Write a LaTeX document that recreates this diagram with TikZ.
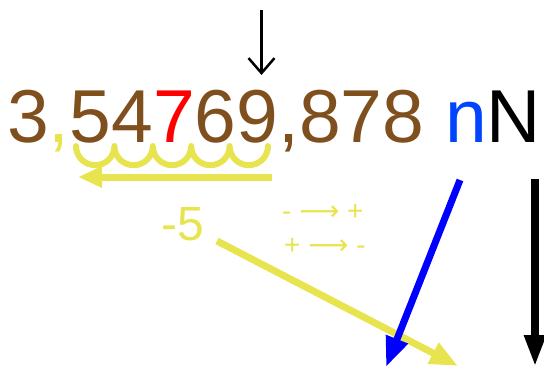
\documentclass[tikz,border=0pt]{standalone}
\usepackage{fontspec}
\setmainfont{Liberation Sans}
\newfontfamily\arrowfont{DejaVu Sans}
\usepackage{xcolor}
\usetikzlibrary{arrows.meta, positioning}

\definecolor{digitbrown}{RGB}{127,79,30}
\definecolor{markyellow}{RGB}{232,228,80}
\definecolor{prefixblue}{RGB}{0,68,255}

\begin{document}
\begin{tikzpicture}[x=1pt, y=1pt, >=Stealth]
    \useasboundingbox (0,0) rectangle (544,-372);

    % =================================================================
    % 1. MAIN POINTS
    % =================================================================
    \coordinate (PointerTop) at (261.5,-10);
    \coordinate (PointerTip) at (261.5,-75);
    \coordinate (ShiftStart) at (272,-177);
    \coordinate (ShiftEnd) at (78,-177);
    \coordinate (SignStart) at (217,-241);
    \coordinate (SignEnd) at (458,-366);
    \coordinate (BlueStart) at (460,-180);
    \coordinate (BlueEnd) at (386,-367);
    \coordinate (BlackStart) at (535,-179);
    \coordinate (BlackEnd) at (535,-367);

    % =================================================================
    % 2. THE NUMBER AND ITS UNIT
    % =================================================================
    \node[anchor=base west, inner sep=0pt, font=\fontsize{75}{90}\selectfont] (Number) at (7,-142)
        {\textcolor{digitbrown}{3}\textcolor{markyellow}{,}\textcolor{digitbrown}{54}\textcolor{red}{7}\textcolor{digitbrown}{69,878} \textcolor{prefixblue}{n}N};

    % Pointer above the digit 9
    \draw[line width=2.5pt, -{Straight Barb[length=15pt, width=26pt]}] (PointerTop) -- (PointerTip);

    % =================================================================
    % 3. COMMA SHIFT (SCALLOPS AND ARROW)
    % =================================================================
    \draw[markyellow, line width=6pt, line cap=round, line join=round] (76,-146)
        \foreach \k in {1,...,5} { arc[start angle=180, end angle=360, radius=19.2] };
    \draw[markyellow, line width=7pt, -{Triangle[length=24pt, width=20pt]}] (ShiftStart) -- (ShiftEnd);

    % =================================================================
    % 4. SIGN CHANGE
    % =================================================================
    \node[anchor=base west, inner sep=0pt, text=markyellow, font=\fontsize{48}{56}\selectfont] (Exponent) at (161,-240) {-5};
    \node[anchor=base west, inner sep=0pt, text=markyellow, font=\fontsize{28}{32}\selectfont] (RuleOne) at (282,-220) {- {\arrowfont ⟶} +};
    \node[anchor=base west, inner sep=0pt, text=markyellow, font=\fontsize{28}{32}\selectfont] (RuleTwo) at (284,-254) {+ {\arrowfont ⟶} -};
    \draw[markyellow, line width=7pt, -{Triangle[length=28pt, width=22pt]}] (SignStart) -- (SignEnd);

    % =================================================================
    % 5. UNIT ARROWS
    % =================================================================
    \draw[blue, line width=7pt, -{Triangle[length=30pt, width=22pt]}] (BlueStart) -- (BlueEnd);
    \draw[black, line width=8pt, -{Triangle[length=32pt, width=20pt]}] (BlackStart) -- (BlackEnd);

\end{tikzpicture}
\end{document}
